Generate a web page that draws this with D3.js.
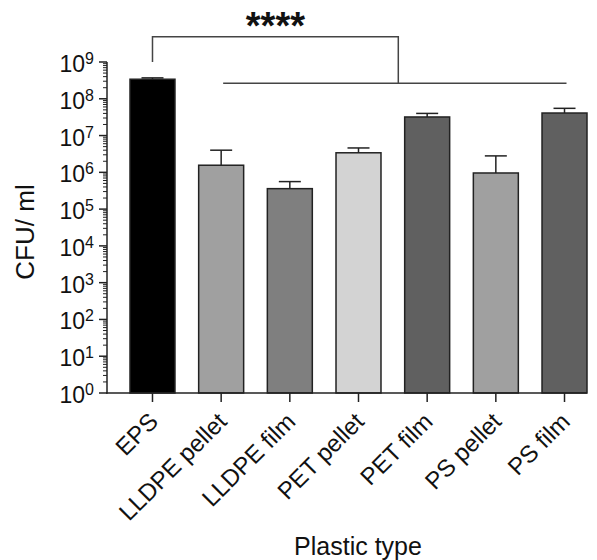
<!DOCTYPE html>
<html lang="en">
<head>
<meta charset="utf-8">
<title>CFU per plastic type</title>
<script src="https://cdn.jsdelivr.net/npm/d3@7"></script>
<style>
  body { margin: 0; background: #fff; }
  text { font-family: "Liberation Sans", Arial, sans-serif; fill: #111; }
</style>
</head>
<body>
<svg width="597" height="560"></svg>
<script>
// data
var categories = ["EPS", "LLDPE pellet", "LLDPE film", "PET pellet", "PET film", "PS pellet", "PS film"];
var means = [3.4e8, 1.56e6, 3.6e5, 3.4e6, 3.2e7, 9.6e5, 4.1e7];
var upper = [3.7e8, 4.0e6, 5.6e5, 4.6e6, 4.0e7, 2.8e6, 5.5e7];
var fills = ["#000000", "#a0a0a0", "#7f7f7f", "#d3d3d3", "#606060", "#a0a0a0", "#606060"];
var yTicks = [1, 10, 100, 1e3, 1e4, 1e5, 1e6, 1e7, 1e8, 1e9];

var svg = d3.select("svg");

var axisX = 107, axisBottom = 393, axisTop = 62;

var x = d3.scaleBand()
    .domain(categories)
    .range([130, 587])
    .paddingInner(0.345)
    .paddingOuter(0);

var y = d3.scaleLog()
    .domain([1, 1e9])
    .range([axisBottom, axisTop]);

// bars
svg.selectAll(".bar")
    .data(categories)
  .enter().append("rect")
    .attr("class", "bar")
    .attr("x", function(d) { return x(d); })
    .attr("y", function(d, i) { return y(means[i]); })
    .attr("width", x.bandwidth())
    .attr("height", function(d, i) { return axisBottom - y(means[i]); })
    .attr("fill", function(d, i) { return fills[i]; })
    .attr("stroke", "#222")
    .attr("stroke-width", 1.5);

// error bars (upper only)
var err = svg.selectAll(".err")
    .data(categories)
  .enter().append("g")
    .attr("class", "err")
    .attr("stroke", "#222")
    .attr("stroke-width", 1.5);
err.append("line")
    .attr("x1", function(d) { return x(d) + x.bandwidth() / 2; })
    .attr("x2", function(d) { return x(d) + x.bandwidth() / 2; })
    .attr("y1", function(d, i) { return y(means[i]); })
    .attr("y2", function(d, i) { return y(upper[i]); });
err.append("line")
    .attr("x1", function(d) { return x(d) + x.bandwidth() / 2 - 11; })
    .attr("x2", function(d) { return x(d) + x.bandwidth() / 2 + 11; })
    .attr("y1", function(d, i) { return y(upper[i]); })
    .attr("y2", function(d, i) { return y(upper[i]); });

// y axis with minor ticks
var minor = [];
for (var e = 0; e < 9; e++) {
  for (var k = 2; k <= 9; k++) minor.push(k * Math.pow(10, e));
}
var yg = svg.append("g").attr("stroke", "#222").attr("stroke-width", 1.5);
yg.append("line")
    .attr("x1", axisX).attr("x2", axisX)
    .attr("y1", axisBottom + 0.75).attr("y2", axisTop);
yg.selectAll(".minor")
    .data(minor)
  .enter().append("line")
    .attr("stroke-width", 1)
    .attr("x1", axisX - 4).attr("x2", axisX)
    .attr("y1", function(d) { return y(d); })
    .attr("y2", function(d) { return y(d); });
yg.selectAll(".major")
    .data(yTicks)
  .enter().append("line")
    .attr("x1", axisX - 8).attr("x2", axisX)
    .attr("y1", function(d) { return y(d); })
    .attr("y2", function(d) { return y(d); });

var yl = svg.selectAll(".ylab")
    .data(yTicks)
  .enter().append("text")
    .attr("class", "ylab")
    .attr("x", axisX - 13)
    .attr("y", function(d) { return y(d) + 10; })
    .attr("text-anchor", "end")
    .style("font-size", "23px");
yl.append("tspan").text("10");
yl.append("tspan")
    .attr("dy", -8)
    .style("font-size", "16px")
    .text(function(d) { return Math.round(Math.log10(d)); });

// x axis
svg.append("line")
    .attr("x1", axisX - 0.75).attr("x2", 587)
    .attr("y1", axisBottom).attr("y2", axisBottom)
    .attr("stroke", "#222").attr("stroke-width", 1.5);
svg.selectAll(".xtick")
    .data(categories)
  .enter().append("line")
    .attr("x1", function(d) { return x(d) + x.bandwidth() / 2; })
    .attr("x2", function(d) { return x(d) + x.bandwidth() / 2; })
    .attr("y1", axisBottom).attr("y2", axisBottom + 9)
    .attr("stroke", "#222").attr("stroke-width", 1.5);
svg.selectAll(".xlab")
    .data(categories)
  .enter().append("text")
    .attr("text-anchor", "end")
    .attr("transform", function(d) {
      return "translate(" + (x(d) + x.bandwidth() / 2 + 7) + "," + (axisBottom + 30) + ") rotate(-45)";
    })
    .style("font-size", "24px")
    .text(function(d) { return d; });

// axis titles
svg.append("text")
    .attr("transform", "translate(34,232) rotate(-90)")
    .attr("text-anchor", "middle")
    .style("font-size", "26px")
    .text("CFU/ ml");
svg.append("text")
    .attr("x", 358).attr("y", 555)
    .attr("text-anchor", "middle")
    .style("font-size", "25px")
    .text("Plastic type");

// significance bracket
var cEPS = x("EPS") + x.bandwidth() / 2;
var bracketTop = 36.7, bracketRight = 398.3, groupLine = 83.3;
var sig = svg.append("g").attr("stroke", "#444").attr("stroke-width", 1.5).attr("fill", "none");
sig.append("path")
    .attr("d", "M" + cEPS + "," + axisTop + "V" + bracketTop + "H" + bracketRight + "V" + groupLine);
sig.append("line")
    .attr("x1", x("LLDPE pellet") + x.bandwidth() / 2 + 2)
    .attr("x2", x("PS film") + x.bandwidth() / 2 + 2)
    .attr("y1", groupLine).attr("y2", groupLine);
svg.append("text")
    .attr("x", (cEPS + bracketRight) / 2)
    .attr("y", 39)
    .attr("text-anchor", "middle")
    .style("font-size", "38px")
    .style("font-weight", "bold")
    .text("****");
</script>
</body>
</html>
